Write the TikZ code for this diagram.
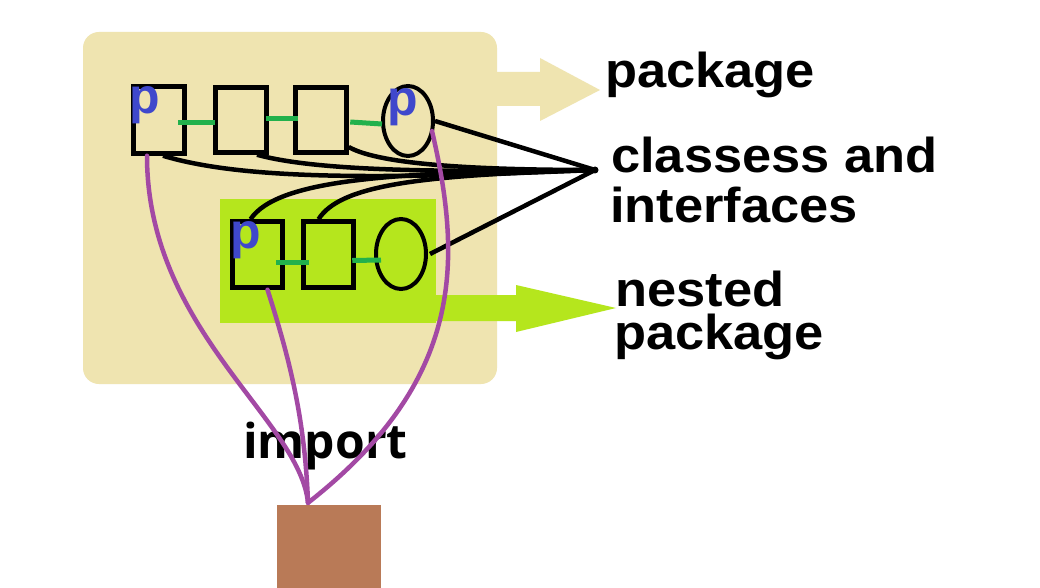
\documentclass[tikz,border=0pt]{standalone}
\usepackage{fontspec}
\setmainfont{Liberation Sans}
\newfontfamily\lblfont{Liberation Sans}[FakeStretch=1.07]
\newfontfamily\importfont{Open Sans}
\usetikzlibrary{calc,shapes.geometric}
\definecolor{beige}{RGB}{239,228,176}
\definecolor{lime}{RGB}{181,230,29}
\definecolor{pblue}{RGB}{63,72,204}
\definecolor{purp}{RGB}{163,73,164}
\definecolor{grn}{RGB}{34,177,76}
\definecolor{brn}{RGB}{185,122,87}
\tikzset{
  cls/.style={draw=black, line width=4.5pt, rectangle, minimum width=51pt, minimum height=66pt, inner sep=0pt},
  iface/.style={draw=black, line width=4pt, ellipse, minimum width=50pt, minimum height=70pt, inner sep=0pt},
  gline/.style={draw=grn, line width=5pt},
  bline/.style={draw=black, line width=4.5pt},
  pline/.style={draw=purp, line width=4.5pt, line cap=round},
  pmark/.style={text=pblue, font=\fontsize{50}{50}\selectfont\bfseries, inner sep=0pt, anchor=base west},
  lbl/.style={font=\lblfont\fontsize{49}{49}\selectfont\bfseries, inner sep=0pt, anchor=base west},
}
\begin{document}
\begin{tikzpicture}[x=1pt,y=-1pt]
\useasboundingbox[fill=white] (0,0) rectangle (1040,588);
% outer package
\fill[beige, rounded corners=16pt] (83,32) rectangle (497,384);
\fill[beige] (497,72) -- (540,72) -- (540,58) -- (600,90) -- (540,121) -- (540,106) -- (497,106) -- cycle;
% nested package
\fill[lime] (220,199) rectangle (436,323);
\fill[lime] (436,295) -- (516,295) -- (516,285) -- (616,308) -- (516,332) -- (516,321) -- (436,321) -- cycle;
% hub
\coordinate (hub) at (595,170);
% nodes
\node[cls, minimum height=67pt] (b1) at (159,120) {};
\node[cls, minimum height=65pt] (b2) at (241,120) {};
\node[cls, minimum height=65pt] (b3) at (321,120) {};
\node[iface] (e1) at (408,121) {};
\node[cls, minimum width=50pt] (b4) at (257.5,254.5) {};
\node[cls, minimum width=50pt] (b5) at (328.5,254.5) {};
\node[iface] (e2) at (401,254) {};
% black connectors
\draw[bline] ([xshift=4pt]b1.south) .. controls (250,182) and (400,178) .. (hub);
\draw[bline] ([xshift=16pt]b2.south) .. controls (320,172) and (450,172) .. (hub);
\draw[bline] ([yshift=-27pt]b3.east) .. controls (380,165) and (480,170) .. (hub);
\draw[bline] (e1.east) -- (hub);
\draw[bline] ([xshift=-7pt]b4.north) .. controls (278,178) and (400,172) .. (hub);
\draw[bline] ([xshift=-10pt]b5.north) .. controls (340,185) and (420,175) .. (hub);
\draw[bline] ([xshift=2pt]e2.east) -- (hub);
\fill[black] (hub) circle (3.5pt);
% green links
\draw[gline] ([xshift=-8.5pt,yshift=-3pt]b1.east) -- ([xshift=1.5pt,yshift=-3pt]b2.west);
\draw[gline] ([xshift=-2.5pt,yshift=1pt]b2.east) -- ([xshift=4.5pt,yshift=1pt]b3.west);
\draw[gline] ([xshift=1.5pt,yshift=-2pt]b3.east) -- ([xshift=1pt,yshift=-3pt]e1.west);
\draw[gline] ([xshift=-8.5pt,yshift=-7.5pt]b4.east) -- ([xshift=7.5pt,yshift=-7.5pt]b5.west);
\draw[gline] ([xshift=-3.5pt,yshift=-6pt]b5.east) -- ([xshift=7pt,yshift=-6pt]e2.west);
% p marks
\node[pmark] (p1) at (129,114) {p};
\node[pmark] (p2) at (387,116) {p};
\node[pmark] (p3) at (230,248) {p};
% labels
\node[lbl] (lpkg) at (605,88) {package};
\node[lbl] (lcls) at (611,172) {classess and};
\node[lbl] (lint) at (610,222) {interfaces};
\node[lbl] (lnest) at (615,306) {nested};
\node[lbl] (lnpkg) at (614,349) {package};
% importer
\node[fill=brn, minimum width=104pt, minimum height=83pt, inner sep=0pt] (imp) at (329,546.5) {};
\node[font=\importfont\fontsize{48}{48}\selectfont\bfseries, inner sep=0pt, anchor=base west] (limp) at (243,458) {import};
\coordinate (ip) at ([xshift=-21pt,yshift=2pt]imp.north);
% purple import links
\draw[pline] ([xshift=-12pt]b1.south) .. controls (147,330) and (300,420) .. (ip);
\draw[pline] ([xshift=10pt]b4.south) .. controls (290,360) and (305,420) .. (ip);
\draw[pline] ([xshift=-3pt,yshift=-10pt]e1.east) .. controls (462,260) and (465,380) .. (ip);
\end{tikzpicture}
\end{document}
